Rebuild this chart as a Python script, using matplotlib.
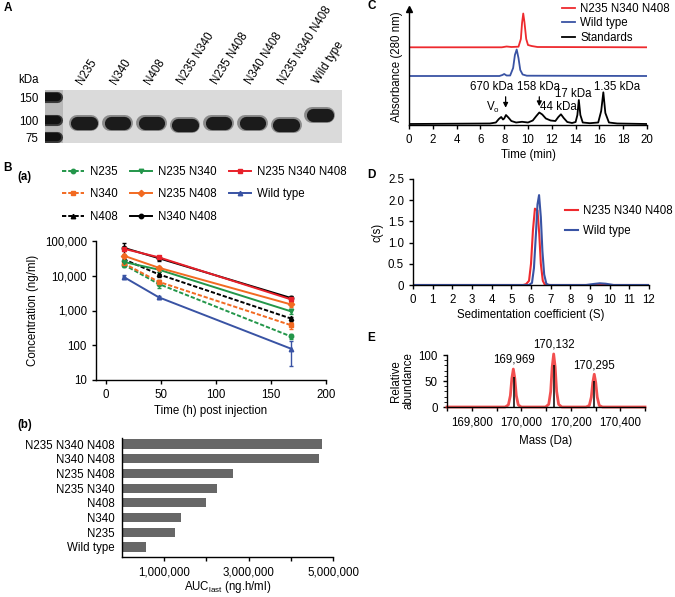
import matplotlib
matplotlib.use("Agg")
import numpy as np
import matplotlib.pyplot as plt
from matplotlib.ticker import FuncFormatter, MultipleLocator, NullLocator
import matplotlib.transforms as mtransforms

plt.rcParams["font.family"] = ["Liberation Sans", "DejaVu Sans"]
plt.rcParams["font.size"] = 8.3
plt.rcParams["mathtext.fontset"] = "custom"
plt.rcParams["mathtext.rm"] = "Liberation Sans"
plt.rcParams["axes.linewidth"] = 1.0
plt.rcParams["xtick.major.width"] = 1.0
plt.rcParams["ytick.major.width"] = 1.0
plt.rcParams["xtick.major.size"] = 3
plt.rcParams["ytick.major.size"] = 3

# ---- A: gel ----
marker_kda = [150, 100, 75]
lanes = ["N235", "N340", "N408", "N235 N340", "N235 N408", "N340 N408",
         "N235 N340 N408", "Wild type"]
band_kda = [95.5, 95.5, 95.5, 92.3, 95.5, 95.5, 92.3, 109.8]

# ---- B(a): concentration vs time ----
times = [16, 48, 168]
series = ["N235", "N340", "N408", "N235 N340", "N235 N408", "N340 N408",
          "N235 N340 N408", "Wild type"]
conc = {
    "N235": [21000, 5800, 180],
    "N340": [23000, 6700, 380],
    "N408": [30000, 11000, 590],
    "N235 N340": [25000, 15000, 950],
    "N235 N408": [38000, 17000, 1500],
    "N340 N408": [64000, 32000, 2300],
    "N235 N340 N408": [60000, 34000, 2100],
    "Wild type": [9300, 2400, 80],
}
conc_err = {
    "N235": [3000, 1500, 30],
    "N340": [3000, 1000, 80],
    "N408": [4000, 1500, 80],
    "N235 N340": [3000, 2000, 150],
    "N235 N408": [5000, 2500, 200],
    "N340 N408": [25000, 5000, 400],
    "N235 N340 N408": [8000, 4000, 300],
    "Wild type": [1000, 200, 55],
}

# ---- B(b): AUC ----
auc_labels = ["N235 N340 N408", "N340 N408", "N235 N408", "N235 N340",
              "N408", "N340", "N235", "Wild type"]
auc_vals = [4750000, 4660000, 2640000, 2240000, 1980000, 1390000, 1260000, 580000]

# ---- C: SEC chromatogram ----
std_t = [0, 6.8, 7.3, 7.55, 7.75, 7.9, 8.0, 8.15, 8.35, 8.6, 9.0, 9.5, 10.0,
         10.4, 10.7, 10.95, 11.2, 11.5, 11.9, 12.3, 12.55, 12.77, 13.0, 13.3,
         13.7, 14.0, 14.15, 14.27, 14.4, 14.6, 15.2, 15.9, 16.15, 16.33, 16.5,
         16.8, 17.5, 20]
std_a = [1, 1.5, 2.5, 6, 8, 5.5, 6.5, 10, 7.5, 4, 2.5, 3.2, 2.5,
         4.5, 9, 12.5, 10.5, 6.5, 4.5, 4.0, 8, 10.7, 7, 3,
         2, 3, 10, 25, 10, 2.5, 1.8, 2.5, 14, 32.7, 12,
         2.5, 1.5, 1]
wt_t = [0, 7.6, 7.85, 8.0, 8.2, 8.5, 8.75, 8.9, 9.05, 9.2, 9.35, 9.55, 9.9, 20]
wt_a = [49, 49, 50, 51, 49.5, 49.5, 57, 70, 75.5, 67, 55, 50.5, 49.3, 49]
tri_t = [0, 7.8, 8.2, 8.6, 9.2, 9.4, 9.5, 9.6, 9.7, 9.85, 10.0, 10.3, 10.8, 20]
tri_a = [77.7, 77.7, 78.5, 78, 78.3, 86, 102, 111.5, 103, 86, 80, 79, 78, 77.7]

# ---- D: sedimentation ----
tri_s = [0, 5.6, 5.75, 5.9, 6.0, 6.1, 6.2, 6.33, 6.42, 6.5, 6.6, 6.7, 7.0, 12]
tri_c = [0, 0, 0.02, 0.1, 0.5, 1.3, 1.8, 1.76, 1.2, 0.5, 0.1, 0.01, 0, 0]
wt_s = [0, 5.9, 6.05, 6.15, 6.25, 6.33, 6.41, 6.5, 6.58, 6.67, 6.78, 6.9,
        8.8, 9.2, 9.5, 9.8, 10.2, 12]
wt_c = [0, 0, 0.05, 0.4, 1.2, 1.9, 2.12, 1.6, 0.8, 0.25, 0.03, 0,
        0, 0.025, 0.04, 0.03, 0, 0]

# ---- E: mass spectrum ----
e_mass = [169700, 169935, 169948, 169956, 169962, 169968, 169974, 169980, 169988,
          170000, 170098, 170111, 170119, 170125, 170131, 170137, 170143, 170151,
          170164, 170262, 170275, 170283, 170289, 170295, 170301, 170307, 170315,
          170328, 170500]
e_abund = [0, 0, 4, 22, 55, 73, 55, 22, 4,
           0, 0, 5, 30, 77, 102, 77, 30, 5,
           0, 0, 3, 19, 47, 63, 47, 19, 3,
           0, 0]
peak_mass = [169969, 170132, 170295]
peak_top = [73, 102, 63]
peak_stick = [58, 80, 50]

colors = {
    "N235": "#23964a", "N340": "#f26a21", "N408": "black",
    "N235 N340": "#23964a", "N235 N408": "#f26a21", "N340 N408": "black",
    "N235 N340 N408": "#e8202a", "Wild type": "#3953a4",
}
styles = {
    "N235": ("o", (0, (2.2, 1))), "N340": ("s", (0, (2.2, 1))),
    "N408": ("^", (0, (2.2, 1))), "N235 N340": ("v", "-"),
    "N235 N408": ("D", "-"), "N340 N408": ("o", "-"),
    "N235 N340 N408": ("s", "-"), "Wild type": ("^", "-"),
}

fig = plt.figure(figsize=(6.75, 5.97), dpi=100)


def px_axes(left, top, right, bottom):
    return fig.add_axes([left / 675, 1 - bottom / 597,
                         (right - left) / 675, (bottom - top) / 597])


def label(x, y, s, **kw):
    fig.text(x / 675, 1 - y / 597, s, **kw)


# panel A
axA = px_axes(45, 90, 342, 143)
axA.set_facecolor("#dadada")
axA.set_yscale("log")
axA.set_ylim(67.6, 169.4)
axA.set_xlim(-0.16, 8.66)
for sp in axA.spines.values():
    sp.set_visible(False)
axA.set_xticks([])
axA.yaxis.set_minor_locator(NullLocator())
axA.set_yticks(marker_kda)
axA.set_yticklabels([str(k) for k in marker_kda])
axA.tick_params(axis="y", length=0, pad=5)
axA.axvspan(-0.16, 0.38, color="#9a9a9a", alpha=0.5, lw=0)
for k in marker_kda:
    axA.plot([-0.5, 0.2], [k, k], lw=8, color="#3a3a3a", solid_capstyle="round")
    axA.plot([-0.5, 0.2], [k, k], lw=6, color="#111111", solid_capstyle="round")
for i, k in enumerate(band_kda):
    x = i + 1
    axA.plot([x - 0.22, x + 0.22], [k, k], lw=11.5, color="#555555",
             solid_capstyle="round", alpha=0.6)
    axA.plot([x - 0.2, x + 0.2], [k, k], lw=9.5, color="#1b1b1b",
             solid_capstyle="round")
trans = mtransforms.blended_transform_factory(axA.transData, axA.transAxes)
for i, lab in enumerate(lanes):
    axA.text(i + 1 - 0.05, 1.1, lab, transform=trans, rotation=58,
             rotation_mode="anchor", ha="left", va="baseline")
label(18, 80, "kDa", va="center")
label(4, 8, "A", fontweight="bold", fontsize=8.5, va="center")

# panel B(a)
axB = px_axes(96, 241, 326, 380)
handles = []
for name in series:
    m, ls = styles[name]
    cont = axB.errorbar(times, conc[name], yerr=conc_err[name], color=colors[name],
                        ls=ls, marker=m, ms=3.2, lw=1.4, capsize=1.5,
                        elinewidth=1.0)
    handles.append(cont[0])
axB.set_yscale("log")
axB.set_ylim(10, 100000)
axB.set_xlim(-9, 200)
axB.set_xticks([0, 50, 100, 150, 200])
axB.yaxis.set_minor_locator(NullLocator())
axB.yaxis.set_major_formatter(FuncFormatter(lambda v, p: f"{v:,.0f}"))
axB.spines["top"].set_visible(False)
axB.spines["right"].set_visible(False)
axB.set_xlabel("Time (h) post injection", labelpad=3)
axB.set_ylabel("Concentration (ng/ml)", labelpad=4)
fig.legend(handles, series, ncol=3, loc="upper left",
           bbox_to_anchor=(62 / 675, 1 - 166 / 597), frameon=False,
           handlelength=1.9, handletextpad=0.5, columnspacing=1.1,
           labelspacing=0.9, borderaxespad=0, borderpad=0)
label(3, 168, "B", fontweight="bold", fontsize=8.5, va="center")
label(17, 177, "(a)", fontweight="bold", va="center")

# panel B(b)
axb = px_axes(122, 438, 333, 557)
ypos = np.arange(len(auc_labels))[::-1]
axb.barh(ypos, auc_vals, height=0.62, color="#676767")
axb.set_yticks(ypos)
axb.set_yticklabels(auc_labels)
axb.tick_params(axis="y", length=0, pad=5)
axb.set_xlim(0, 5000000)
axb.set_ylim(-0.68, 7.41)
axb.set_xticks([1000000, 2000000, 3000000, 4000000, 5000000])
axb.xaxis.set_major_formatter(
    FuncFormatter(lambda v, p: f"{v:,.0f}" if round(v / 1e6) % 2 == 1 else ""))
axb.spines["top"].set_visible(False)
axb.spines["right"].set_visible(False)
axb.set_xlabel(r"AUC$_\mathregular{last}$ (ng.h/ml)", labelpad=1)
label(17, 425, "(b)", fontweight="bold", va="center")

# panel C
axCc = px_axes(409, 9, 647, 125)
l_std, = axCc.plot(std_t, std_a, color="black", lw=1.3)
l_wt, = axCc.plot(wt_t, wt_a, color="#3953a4", lw=1.3)
l_tri, = axCc.plot(tri_t, tri_a, color="#ee2a2e", lw=1.3)
axCc.set_xlim(0, 20)
axCc.set_ylim(0, 116)
axCc.set_xticks(range(0, 21, 2))
axCc.set_yticks([])
axCc.spines["top"].set_visible(False)
axCc.spines["right"].set_visible(False)
axCc.plot(0, 1, marker="^", ms=4, color="black", transform=axCc.transAxes,
          clip_on=False)
axCc.set_xlabel("Time (min)", labelpad=2)
axCc.set_ylabel("Absorbance (280 nm)", labelpad=4)
axCc.legend([l_tri, l_wt, l_std], ["N235 N340 N408", "Wild type", "Standards"],
            loc="upper left", bbox_to_anchor=(562 / 675, 1 - 3 / 597),
            bbox_transform=fig.transFigure, frameon=False, handlelength=1.1,
            handletextpad=0.5, labelspacing=0.2, borderaxespad=0, borderpad=0)
arrow = dict(arrowstyle="-|>", color="black", lw=0.9, mutation_scale=7)
axCc.annotate("", xy=(8.12, 14.5), xytext=(8.12, 31), arrowprops=arrow)
axCc.annotate("", xy=(10.95, 16), xytext=(10.95, 31), arrowprops=arrow)
axCc.text(6.95, 38, "670 kDa", ha="center", va="center")
axCc.text(10.85, 38, "158 kDa", ha="center", va="center")
axCc.text(7.05, 18, r"V$_\mathregular{o}$", ha="center", va="center")
axCc.text(11.05, 18.3, "44 kDa", ha="left", va="center")
axCc.text(13.8, 31, "17 kDa", ha="center", va="center")
axCc.text(17.5, 38, "1.35 kDa", ha="center", va="center")
label(367, 6, "C", fontweight="bold", fontsize=8.5, va="center")

# panel D
axD = px_axes(413, 179, 649, 285)
l1, = axD.plot(tri_s, tri_c, color="#ee2a2e", lw=1.5)
l2, = axD.plot(wt_s, wt_c, color="#3953a4", lw=1.5)
axD.set_xlim(0, 12)
axD.set_ylim(0, 2.5)
axD.set_xticks(range(0, 13))
axD.set_yticks([0, 0.5, 1.0, 1.5, 2.0, 2.5])
axD.yaxis.set_major_formatter(FuncFormatter(lambda v, p: "0" if v == 0 else f"{v:.1f}"))
axD.spines["top"].set_visible(False)
axD.spines["right"].set_visible(False)
axD.set_xlabel("Sedimentation coefficient (S)", labelpad=2)
axD.set_ylabel("c(s)", labelpad=3)
axD.legend([l1, l2], ["N235 N340 N408", "Wild type"], loc="upper left",
           bbox_to_anchor=(565 / 675, 1 - 205 / 597), bbox_transform=fig.transFigure,
           frameon=False, handlelength=1.1, handletextpad=0.5, labelspacing=0.7,
           borderaxespad=0, borderpad=0)
label(367, 175, "D", fontweight="bold", fontsize=8.5, va="center")

# panel E
axE = px_axes(447, 355, 645, 407)
axE.plot(e_mass, e_abund, color="#f03030", lw=2.0, alpha=0.85, clip_on=False)
axE.vlines(peak_mass, 0, peak_stick, color="black", lw=1.1)
axE.set_xlim(169700, 170500)
axE.set_ylim(0, 100)
axE.xaxis.set_major_locator(MultipleLocator(100))
axE.xaxis.set_major_formatter(
    FuncFormatter(lambda v, p: f"{v:,.0f}" if round(v / 100) % 2 == 0 else ""))
axE.set_yticks([0, 50, 100])
axE.yaxis.set_minor_locator(MultipleLocator(10))
axE.tick_params(axis="y", which="minor", length=2)
axE.spines["top"].set_visible(False)
axE.spines["right"].set_visible(False)
for m, h in zip(peak_mass, peak_top):
    axE.text(m, h + 6, f"{m:,}", ha="center", va="bottom", clip_on=False)
axE.set_xlabel("Mass (Da)", labelpad=5)
axE.set_ylabel("Relative\nabundance", labelpad=3, linespacing=1.0)
label(367, 338, "E", fontweight="bold", fontsize=8.5, va="center")

fig.savefig("out.png", dpi=100)
